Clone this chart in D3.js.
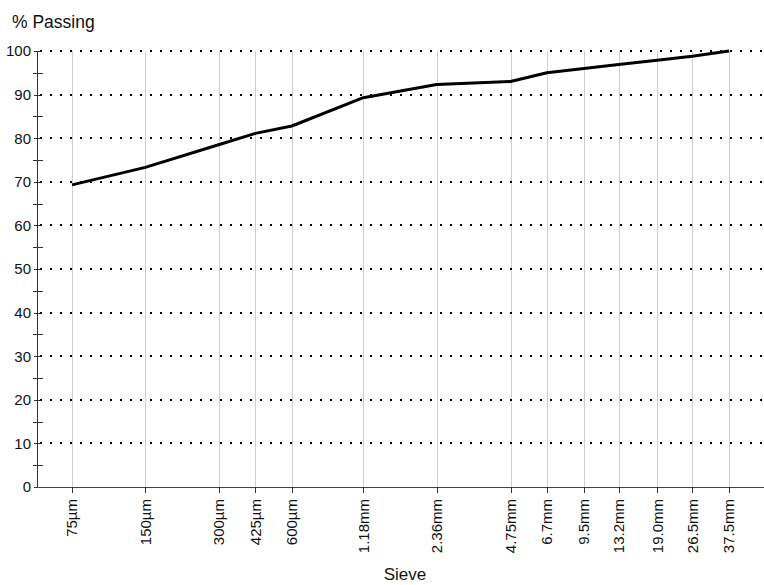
<!DOCTYPE html>
<html>
<head>
<meta charset="utf-8">
<script src="https://cdn.jsdelivr.net/npm/d3@7/dist/d3.min.js"></script>
<style>
  html, body { margin: 0; padding: 0; background: #fff; }
  svg { display: block; }
  text { font-family: "Liberation Sans", Arial, sans-serif; fill: #111; }
</style>
</head>
<body>
<svg id="chart" width="764" height="585"></svg>
<script>
// Sieve sizes (µm) and their labels
const sieveSizes = [75, 150, 300, 425, 600, 1180, 2360, 4750, 6700, 9500, 13200, 19000, 26500, 37500];
const sieveLabels = ["75µm", "150µm", "300µm", "425µm", "600µm", "1.18mm", "2.36mm", "4.75mm", "6.7mm", "9.5mm", "13.2mm", "19.0mm", "26.5mm", "37.5mm"];
// % passing
const passing = [69.3, 73.3, 78.5, 81.1, 82.8, 89.3, 92.3, 93.0, 95.0, 96.0, 96.9, 97.9, 98.8, 100];
const yMajorTicks = [0, 10, 20, 30, 40, 50, 60, 70, 80, 90, 100];
const yMinorTicks = [5, 15, 25, 35, 45, 55, 65, 75, 85, 95];

(function () {
const svg = d3.select("#chart");
const mLeft = 37, mRight = 764, mTop = 51, mBottom = 487;

const x = d3.scaleLog().domain([75, 37500]).range([72, 729]);
const y = d3.scaleLinear().domain([0, 100]).range([mBottom, mTop]);

// vertical grid lines
svg.append("g").selectAll("line").data(sieveSizes).join("line")
  .attr("x1", d => Math.round(x(d)) + 0.5).attr("x2", d => Math.round(x(d)) + 0.5)
  .attr("y1", mTop).attr("y2", mBottom)
  .attr("stroke", "#cfcfcf").attr("stroke-width", 1);

// horizontal dotted grid lines
svg.append("g").selectAll("line").data(yMajorTicks.filter(d => d > 0)).join("line")
  .attr("x1", mLeft + 3).attr("x2", mRight)
  .attr("y1", d => Math.round(y(d))).attr("y2", d => Math.round(y(d)))
  .attr("stroke", "#000").attr("stroke-width", 2)
  .attr("stroke-dasharray", "2,8");

// y axis
const yAxis = svg.append("g");
yAxis.append("line").attr("x1", mLeft + 0.5).attr("x2", mLeft + 0.5).attr("y1", mTop).attr("y2", mBottom)
  .attr("stroke", "#333").attr("stroke-width", 1);
yAxis.selectAll("line.major").data(yMajorTicks).join("line").attr("class", "major")
  .attr("x1", mLeft - 3).attr("x2", mLeft + 4)
  .attr("y1", d => Math.round(y(d)) + 0.5).attr("y2", d => Math.round(y(d)) + 0.5)
  .attr("stroke", "#333");
yAxis.selectAll("line.minor").data(yMinorTicks).join("line").attr("class", "minor")
  .attr("x1", mLeft - 4).attr("x2", mLeft + 6)
  .attr("y1", d => Math.round(y(d)) + 0.5).attr("y2", d => Math.round(y(d)) + 0.5)
  .attr("stroke", "#333");
yAxis.selectAll("text").data(yMajorTicks).join("text")
  .attr("x", mLeft - 6).attr("y", d => y(d)).attr("dy", "0.36em")
  .attr("text-anchor", "end").attr("font-size", 15)
  .text(d => d);

// x axis
const xAxis = svg.append("g");
xAxis.append("line").attr("x1", mLeft).attr("x2", mRight).attr("y1", mBottom + 0.5).attr("y2", mBottom + 0.5)
  .attr("stroke", "#444").attr("stroke-width", 1.2);
xAxis.selectAll("line.tick").data(sieveSizes).join("line").attr("class", "tick")
  .attr("x1", d => Math.round(x(d)) + 0.5).attr("x2", d => Math.round(x(d)) + 0.5)
  .attr("y1", mBottom).attr("y2", mBottom + 6)
  .attr("stroke", "#333");
xAxis.selectAll("text").data(sieveSizes).join("text")
  .attr("transform", d => `translate(${x(d)},${mBottom + 12}) rotate(-90)`)
  .attr("dy", "0.36em")
  .attr("text-anchor", "end").attr("font-size", 15)
  .text((d, i) => sieveLabels[i]);

// data line
const line = d3.line().x(d => x(d[0])).y(d => y(d[1]));
svg.append("path")
  .datum(sieveSizes.map((s, i) => [s, passing[i]]))
  .attr("d", line)
  .attr("fill", "none").attr("stroke", "#000").attr("stroke-width", 3)
  .attr("stroke-linejoin", "round");

// titles
svg.append("text").attr("x", 12).attr("y", 28).attr("font-size", 17.5).text("% Passing");
svg.append("text").attr("x", 405).attr("y", 580).attr("text-anchor", "middle").attr("font-size", 17).text("Sieve");
})();
</script>
</body>
</html>
